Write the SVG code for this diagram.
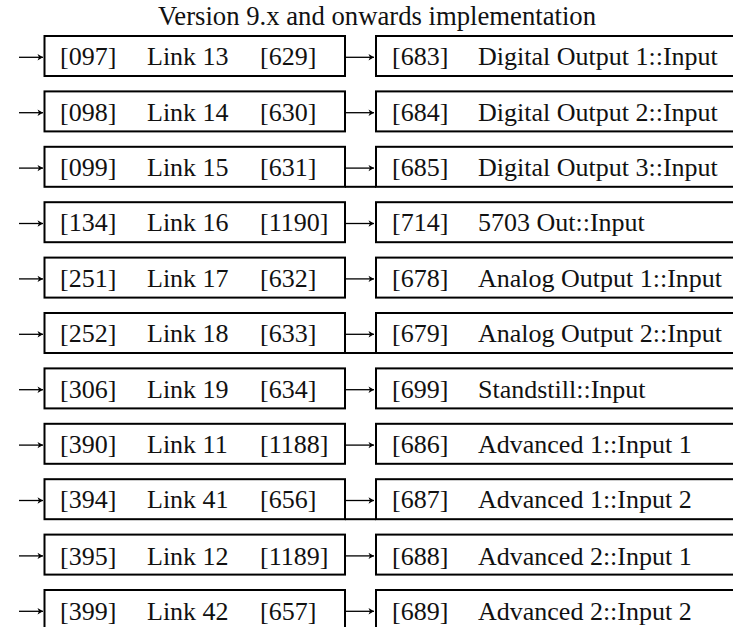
<svg xmlns="http://www.w3.org/2000/svg" width="733" height="627" viewBox="0 0 733 627">
<style>
.bx{fill:#fff;stroke:#000;stroke-width:2}
.t{font-family:"Liberation Serif","Times New Roman",serif;font-size:26px;fill:#111}
.ar{stroke:#000;stroke-width:1.3;fill:none;marker-end:url(#ah)}
.hl{stroke:#000;stroke-width:2}
</style>
<defs>
<marker id="ah" markerUnits="userSpaceOnUse" markerWidth="8" markerHeight="8" refX="6" refY="4" orient="auto">
<path d="M0.5,0.8 L6,4 L0.5,7.2 L2,4 z" fill="#000"/>
</marker>
</defs>
<rect width="733" height="627" fill="#fff"/>
<text class="t" x="158" y="25" style="font-size:26.7px">Version 9.x and onwards implementation</text>

<g id="link13"><rect class="bx" x="44.5" y="36" width="300.5" height="40"/><text class="t" x="60" y="65">[097]</text><text class="t" x="147" y="65">Link 13</text><text class="t" x="260" y="65">[629]</text></g>
<g id="dout1"><rect class="bx" x="376" y="36" width="400" height="40"/><text class="t" x="392" y="65">[683]</text><text class="t" x="478" y="65">Digital Output 1::Input</text></g>

<g id="link14"><rect class="bx" x="44.5" y="91.4" width="300.5" height="40"/><text class="t" x="60" y="120.6">[098]</text><text class="t" x="147" y="120.6">Link 14</text><text class="t" x="260" y="120.6">[630]</text></g>
<g id="dout2"><rect class="bx" x="376" y="91.4" width="400" height="40"/><text class="t" x="392" y="120.6">[684]</text><text class="t" x="478" y="120.6">Digital Output 2::Input</text></g>

<g id="link15"><rect class="bx" x="44.5" y="146.8" width="300.5" height="40"/><text class="t" x="60" y="176">[099]</text><text class="t" x="147" y="176">Link 15</text><text class="t" x="260" y="176">[631]</text></g>
<g id="dout3"><rect class="bx" x="376" y="146.8" width="400" height="40"/><text class="t" x="392" y="176">[685]</text><text class="t" x="478" y="176">Digital Output 3::Input</text></g>

<g id="link16"><rect class="bx" x="44.5" y="202.2" width="300.5" height="40"/><text class="t" x="60" y="231.4">[134]</text><text class="t" x="147" y="231.4">Link 16</text><text class="t" x="260" y="231.4">[1190]</text></g>
<g id="out5703"><rect class="bx" x="376" y="202.2" width="400" height="40"/><text class="t" x="392" y="231.4">[714]</text><text class="t" x="478" y="231.4">5703 Out::Input</text></g>

<g id="link17"><rect class="bx" x="44.5" y="257.6" width="300.5" height="40"/><text class="t" x="60" y="286.8">[251]</text><text class="t" x="147" y="286.8">Link 17</text><text class="t" x="260" y="286.8">[632]</text></g>
<g id="aout1"><rect class="bx" x="376" y="257.6" width="400" height="40"/><text class="t" x="392" y="286.8">[678]</text><text class="t" x="478" y="286.8">Analog Output 1::Input</text></g>

<g id="link18"><rect class="bx" x="44.5" y="313" width="300.5" height="40"/><text class="t" x="60" y="342.2">[252]</text><text class="t" x="147" y="342.2">Link 18</text><text class="t" x="260" y="342.2">[633]</text></g>
<g id="aout2"><rect class="bx" x="376" y="313" width="400" height="40"/><text class="t" x="392" y="342.2">[679]</text><text class="t" x="478" y="342.2">Analog Output 2::Input</text></g>

<g id="link19"><rect class="bx" x="44.5" y="368.4" width="300.5" height="40"/><text class="t" x="60" y="397.6">[306]</text><text class="t" x="147" y="397.6">Link 19</text><text class="t" x="260" y="397.6">[634]</text></g>
<g id="standstill"><rect class="bx" x="376" y="368.4" width="400" height="40"/><text class="t" x="392" y="397.6">[699]</text><text class="t" x="478" y="397.6">Standstill::Input</text></g>

<g id="link11"><rect class="bx" x="44.5" y="423.8" width="300.5" height="40"/><text class="t" x="60" y="453">[390]</text><text class="t" x="147" y="453">Link 11</text><text class="t" x="260" y="453">[1188]</text></g>
<g id="adv1in1"><rect class="bx" x="376" y="423.8" width="400" height="40"/><text class="t" x="392" y="453">[686]</text><text class="t" x="478" y="453">Advanced 1::Input 1</text></g>

<g id="link41"><rect class="bx" x="44.5" y="479.2" width="300.5" height="40"/><text class="t" x="60" y="508.4">[394]</text><text class="t" x="147" y="508.4">Link 41</text><text class="t" x="260" y="508.4">[656]</text></g>
<g id="adv1in2"><rect class="bx" x="376" y="479.2" width="400" height="40"/><text class="t" x="392" y="508.4">[687]</text><text class="t" x="478" y="508.4">Advanced 1::Input 2</text></g>

<g id="link12"><rect class="bx" x="44.5" y="534.6" width="300.5" height="40"/><text class="t" x="60" y="564.6">[395]</text><text class="t" x="147" y="564.6">Link 12</text><text class="t" x="260" y="564.6">[1189]</text></g>
<g id="adv2in1"><rect class="bx" x="376" y="534.6" width="400" height="40"/><text class="t" x="392" y="564.6">[688]</text><text class="t" x="478" y="564.6">Advanced 2::Input 1</text></g>

<g id="link42"><rect class="bx" x="44.5" y="590" width="300.5" height="40"/><text class="t" x="60" y="620">[399]</text><text class="t" x="147" y="620">Link 42</text><text class="t" x="260" y="620">[657]</text></g>
<g id="adv2in2"><rect class="bx" x="376" y="590" width="400" height="40"/><text class="t" x="392" y="620">[689]</text><text class="t" x="478" y="620">Advanced 2::Input 2</text></g>

<g id="connectors">
<line class="ar" x1="19" y1="57.3" x2="43" y2="57.3"/><line class="ar" x1="346" y1="57.3" x2="374" y2="57.3"/>
<line class="ar" x1="19" y1="112.7" x2="43" y2="112.7"/><line class="ar" x1="346" y1="112.7" x2="374" y2="112.7"/>
<line class="ar" x1="19" y1="168.1" x2="43" y2="168.1"/><line class="ar" x1="346" y1="168.1" x2="374" y2="168.1"/>
<line class="ar" x1="19" y1="223.5" x2="43" y2="223.5"/><line class="ar" x1="346" y1="223.5" x2="374" y2="223.5"/>
<line class="ar" x1="19" y1="278.9" x2="43" y2="278.9"/><line class="ar" x1="346" y1="278.9" x2="374" y2="278.9"/>
<line class="ar" x1="19" y1="334.3" x2="43" y2="334.3"/><line class="ar" x1="346" y1="334.3" x2="374" y2="334.3"/>
<line class="ar" x1="19" y1="389.7" x2="43" y2="389.7"/><line class="ar" x1="346" y1="389.7" x2="374" y2="389.7"/>
<line class="ar" x1="19" y1="445.1" x2="43" y2="445.1"/><line class="ar" x1="346" y1="445.1" x2="374" y2="445.1"/>
<line class="ar" x1="19" y1="500.5" x2="43" y2="500.5"/><line class="ar" x1="346" y1="500.5" x2="374" y2="500.5"/>
<line class="ar" x1="19" y1="555.9" x2="43" y2="555.9"/><line class="ar" x1="346" y1="555.9" x2="374" y2="555.9"/>
<line class="ar" x1="19" y1="611.3" x2="43" y2="611.3"/><line class="ar" x1="346" y1="611.3" x2="374" y2="611.3"/>
<line class="hl" x1="345" y1="186.8" x2="376" y2="186.8"/>
<line class="hl" x1="345" y1="353" x2="376" y2="353"/>
<line class="hl" x1="345" y1="519.2" x2="376" y2="519.2"/>
</g>
</svg>
